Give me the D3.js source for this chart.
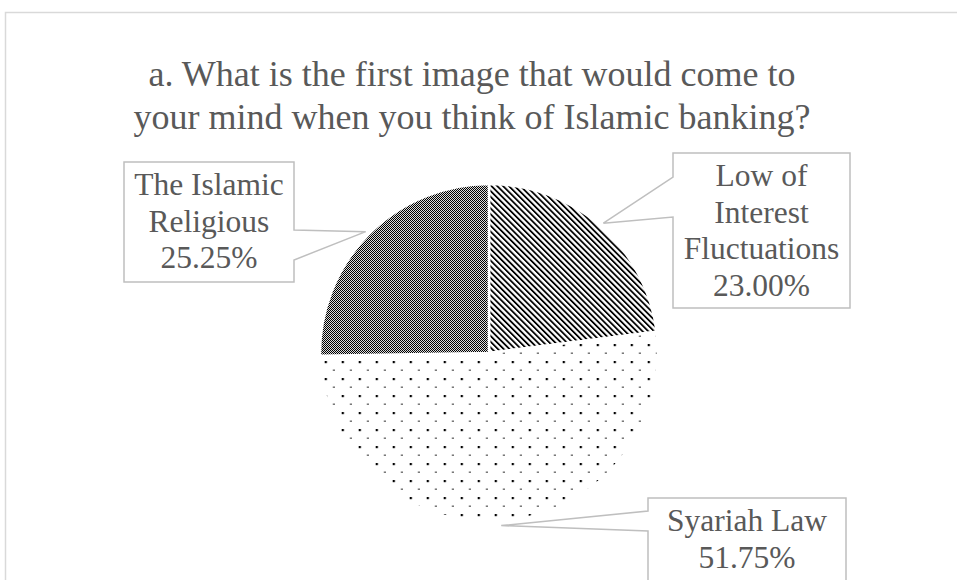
<!DOCTYPE html>
<html>
<head>
<meta charset="utf-8">
<script src="https://cdn.jsdelivr.net/npm/d3@7/dist/d3.min.js"></script>
<style>
  html, body { margin: 0; padding: 0; background: #fff; }
  svg { display: block; }
  text { font-family: "Liberation Serif", "Times New Roman", serif; }
</style>
</head>
<body>
<script>
// Survey answers, in slice order starting at 12 o'clock, clockwise
const categories = ["Low of Interest Fluctuations", "Syariah Law", "The Islamic Religious"];
const shares = [23.00, 51.75, 25.25];
const labelLines = [["Low of", "Interest", "Fluctuations"], ["Syariah Law"], ["The Islamic", "Religious"]];
const titleLines = ["a. What is the first image that would come to", "your mind when you think of Islamic banking?"];

const W = 957, H = 580;
const svg = d3.select("body").append("svg").attr("width", W).attr("height", H);

// chart frame
svg.append("rect").attr("x", 5.5).attr("y", 12.5).attr("width", 980).attr("height", 600)
  .attr("fill", "#fff").attr("stroke", "#d9d9d9").attr("stroke-width", 1.5);

const defs = svg.append("defs");

// fill patterns
const hp = 4.1;
const hatch = defs.append("pattern").attr("id", "pat-hatch").attr("patternUnits", "userSpaceOnUse")
  .attr("width", hp).attr("height", hp).attr("patternTransform", "rotate(-45)");
hatch.append("rect").attr("width", hp).attr("height", hp).attr("fill", "#fff");
hatch.append("rect").attr("x", 0).attr("width", 1.8).attr("height", hp).attr("fill", "#000");

const dots = defs.append("pattern").attr("id", "pat-dots").attr("patternUnits", "userSpaceOnUse")
  .attr("x", 5.7).attr("y", 8).attr("width", 17).attr("height", 17);
dots.append("rect").attr("width", 17).attr("height", 17).attr("fill", "#fff");
dots.append("rect").attr("x", 0).attr("y", 0).attr("width", 2.2).attr("height", 2.2).attr("fill", "#000");
dots.append("rect").attr("x", 8.5).attr("y", 8.5).attr("width", 1.4).attr("height", 1.4).attr("fill", "#111");

const checker = defs.append("pattern").attr("id", "pat-check").attr("patternUnits", "userSpaceOnUse")
  .attr("width", 2).attr("height", 2);
checker.append("rect").attr("width", 2).attr("height", 2).attr("fill", "#dcdcdc");
checker.append("rect").attr("x", 0).attr("y", 0).attr("width", 1).attr("height", 1).attr("fill", "#000");
checker.append("rect").attr("x", 1).attr("y", 1).attr("width", 1).attr("height", 1).attr("fill", "#000");

const fills = ["url(#pat-hatch)", "url(#pat-dots)", "url(#pat-check)"];

// title
const title = svg.append("text").attr("x", 472).attr("y", 86)
  .attr("text-anchor", "middle").attr("font-size", 36).attr("fill", "#595959");
titleLines.forEach((t, i) => title.append("tspan").attr("x", 472).attr("dy", i ? 43 : 0).text(t));

// pie
const cx = 489, cy = 353, r = 169;
const pie = d3.pie().sort(null).value(d => d)(shares);
const arc = d3.arc().innerRadius(0).outerRadius(r);
const g = svg.append("g").attr("transform", `translate(${cx},${cy})`);
g.selectAll("path").data(pie).join("path")
  .attr("d", arc).attr("fill", (d, i) => fills[i])
  .attr("stroke", "#fff").attr("stroke-width", 2.5).attr("stroke-linejoin", "round");

// callout boxes: box rectangle plus the two points where the pointer leaves the box edge
const boxes = [
  { x0: 673, y0: 153, x1: 850, y1: 308, side: "left", a: 177, b: 217 },
  { x0: 648, y0: 498, x1: 846, y1: 590, side: "left", a: 511, b: 531 },
  { x0: 124, y0: 162, x1: 294, y1: 282, side: "right", a: 230, b: 260 }
];
const lineH = 36.5, fontSize = 31.5;

pie.forEach((d, i) => {
  const b = boxes[i];
  const mid = (d.startAngle + d.endAngle) / 2;
  const tipR = r + 4;
  const tx = cx + tipR * Math.sin(mid), ty = cy - tipR * Math.cos(mid);
  let pts;
  if (b.side === "left") {
    pts = [[b.x0, b.y0], [b.x1, b.y0], [b.x1, b.y1], [b.x0, b.y1], [b.x0, b.b], [tx, ty], [b.x0, b.a]];
  } else {
    pts = [[b.x0, b.y0], [b.x1, b.y0], [b.x1, b.a], [tx, ty], [b.x1, b.b], [b.x1, b.y1], [b.x0, b.y1]];
  }
  svg.append("path").attr("d", d3.line()(pts) + "Z")
    .attr("fill", "#fff").attr("stroke", "#bfbfbf").attr("stroke-width", 1.5);

  const lines = labelLines[i].concat([d3.format(".2f")(shares[i]) + "%"]);
  const midX = (b.x0 + b.x1) / 2;
  const t = svg.append("text").attr("text-anchor", "middle").attr("font-size", fontSize).attr("fill", "#595959");
  lines.forEach((s, k) => t.append("tspan").attr("x", midX).attr("y", b.y0 + 33 + k * lineH).text(s));
});
</script>
</body>
</html>
